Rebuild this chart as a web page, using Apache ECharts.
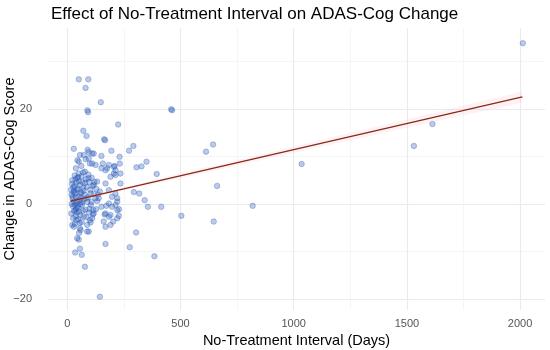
<!DOCTYPE html>
<html>
<head>
<meta charset="utf-8">
<script src="https://cdn.jsdelivr.net/npm/echarts@6/dist/echarts.min.js"></script>
<style>html,body{margin:0;padding:0;background:#fff}#c{width:550px;height:350px}</style>
</head>
<body>
<div id="c"></div>
<script>
// Scatter points: No-treatment interval (days) and ADAS-Cog change
const days = [
  51,93,81,148,89,92,459,463,71,85,225,163,167,29,90,95,195,273,292,613,644,662,
  56,73,117,151,231,81,100,157,209,232,306,328,350,395,294,318,342,356,415,504,647,
  304,276,385,169,144,78,35,64,56,44,51,88,95,29,56,103,161,203,229,191,228,165,117,
  151,173,213,221,198,184,235,139,144,117,132,191,213,235,151,176,206,22,59,52,169,191,
  221,819,1035,1531,1613,2012,
  51,95,110,110,125,169,184,206,213,169,213,221,184,198,221,169,184,
  18,20,24,19,27,22,26,29,21,25,28,23,30,17,
  33,36,40,32,44,35,38,42,34,39,43,37,41,33,45,31,40,36,38,
  48,52,56,47,59,50,54,58,46,53,57,49,55,51,60,47,45,
  63,67,71,62,74,65,69,73,64,70,66,72,62,
  78,82,86,77,89,80,84,88,79,85,
  93,97,101,92,104,96,100,94,103,98,
  108,112,118,107,115,110,120,124,113,
  128,132,127,136
];
const change = [
  26.2,26.2,24.4,21.4,19.7,19.3,19.9,19.7,15.4,14.3,16.7,13.6,13.4,11.6,11.4,10.9,11.2,11.2,12.2,11.0,12.5,3.8,
  10.3,10.3,10.6,10.1,9.9,9.4,8.5,8.5,8.0,8.5,7.7,7.9,8.9,6.3,2.5,2.2,0.8,-0.6,-0.6,-2.5,-3.7,
  -6.0,-9.1,-11.0,-8.4,-19.5,-13.2,-10.2,-10.7,-9.4,-7.2,-7.5,-5.8,-5.8,-4.8,-5.1,-3.9,-3.7,-3.7,-1.1,-2.3,-2.5,-2.2,-2.0,
  -0.6,-0.4,-0.2,0.5,1.5,2.9,4.3,1.2,2.6,4.0,4.7,5.7,6.1,6.4,7.5,7.5,7.8,-4.4,-5.5,-6.1,-4.8,-4.4,
  -3.0,-0.4,8.4,12.2,16.8,33.8,
  8.9,9.6,10.6,8.5,8.2,7.1,8.2,6.4,7.1,4.3,2.2,1.2,0.1,-0.6,-1.3,-2.0,-2.7,
  -2,0,1,2,3.5,5,-3,0.5,4.2,-0.5,2.5,1.5,-1.5,3,
  6,5.2,4.5,3.8,3,2.2,1.4,0.6,-0.2,-1,-1.8,-2.6,-3.4,-4.2,5.5,2.8,0.2,-1.4,7.5,
  5.6,4.8,4,3.2,2.4,1.6,0.8,0,-0.8,-1.6,-2.4,-3.2,-4,6.4,1.2,-0.4,9.2,
  5.8,4.6,3.4,2.2,1,-0.2,-1.4,-2.6,-3.8,6.6,0.4,2.8,8.0,
  6.8,5.2,3.6,2,0.4,-1.2,-2.8,-4.4,4.4,1.2,
  6.2,4.6,3,1.4,-0.2,-1.8,-3.4,5.4,2.2,-1,
  5.5,3.8,2.1,0.4,-1.3,-3,4.6,1.2,-2.2,
  3.2,0.6,-1.1,2.0
];
// Linear fit line and its confidence band
const fitX = [15, 2010];
const fitY = [0.6, 22.5];
const bandX = [15, 200, 500, 1000, 1500, 2010];
const bandLow = [0.1, 2.3, 5.4, 10.7, 16.0, 21.3];
const bandHigh = [1.1, 2.9, 6.4, 12.1, 17.8, 23.7];
// Tick values
const xMajor = [0, 500, 1000, 1500, 2000];
const xMinor = [250, 750, 1250, 1750];
const yMajor = [-20, 0, 20];
const yMinor = [-10, 10, 30];

const pts = days.map((d, i) => [d, change[i]]);
const bandData = bandX.map((x, i) => [x, bandLow[i], bandHigh[i]]);
const fitData = fitX.map((x, i) => [x, fitY[i]]);

const FONT = 'Liberation Sans, Arial, sans-serif';
const fmt = v => v < 0 ? '\u2212' + Math.abs(v) : String(v);

const chart = echarts.init(document.getElementById('c'), null, {renderer: 'canvas'});
chart.setOption({
  animation: false,
  backgroundColor: '#ffffff',
  title: {
    text: 'Effect of No-Treatment Interval on ADAS-Cog Change',
    left: 46, top: 1,
    textStyle: {fontFamily: FONT, fontSize: 17, fontWeight: 'normal', color: '#000'}
  },
  grid: {left: 48, right: 5, top: 28, bottom: 40, containLabel: false, outerBoundsMode: 'none'},
  xAxis: [
    {
      type: 'value', min: -85, max: 2110,
      name: 'No-Treatment Interval (Days)', nameLocation: 'middle', nameGap: 23, nameMoveOverlap: false,
      nameTextStyle: {fontFamily: FONT, fontSize: 14.5, color: '#000'},
      axisLine: {show: false},
      axisTick: {show: false, customValues: xMajor},
      axisLabel: {customValues: xMajor, color: '#555', fontFamily: FONT, fontSize: 11, margin: 8, formatter: fmt},
      splitLine: {show: true, lineStyle: {color: '#ebebeb', width: 1.1}}
    },
    {
      type: 'value', min: -85, max: 2110, position: 'bottom',
      axisLine: {show: false},
      axisTick: {show: false, customValues: xMinor},
      axisLabel: {show: false},
      splitLine: {show: true, lineStyle: {color: '#f2f2f2', width: 0.8}}
    }
  ],
  yAxis: [
    {
      type: 'value', min: -22.3, max: 37,
      name: 'Change in ADAS-Cog Score', nameLocation: 'middle', nameGap: 31, nameMoveOverlap: false,
      nameTextStyle: {fontFamily: FONT, fontSize: 14.5, color: '#000'},
      axisLine: {show: false},
      axisTick: {show: false, customValues: yMajor},
      axisLabel: {customValues: yMajor, color: '#555', fontFamily: FONT, fontSize: 11, margin: 16, formatter: fmt},
      splitLine: {show: true, lineStyle: {color: '#ebebeb', width: 1.1}}
    },
    {
      type: 'value', min: -22.3, max: 37, position: 'left',
      axisLine: {show: false},
      axisTick: {show: false, customValues: yMinor},
      axisLabel: {show: false},
      splitLine: {show: true, lineStyle: {color: '#f2f2f2', width: 0.8}}
    }
  ],
  series: [
    {
      type: 'scatter', data: pts, xAxisIndex: 0, yAxisIndex: 0,
      symbolSize: 5.5,
      itemStyle: {color: 'rgba(40,90,185,0.4)', borderColor: 'rgba(40,90,185,0.4)', borderWidth: 1},
      z: 2
    },
    {
      type: 'custom', data: bandData, xAxisIndex: 0, yAxisIndex: 0, silent: true, z: 3,
      renderItem: (params, api) => {
        if (params.dataIndex !== 0) return null;
        const poly = [];
        for (let i = 0; i < bandData.length; i++) poly.push(api.coord([bandData[i][0], bandData[i][2]]));
        for (let i = bandData.length - 1; i >= 0; i--) poly.push(api.coord([bandData[i][0], bandData[i][1]]));
        return {type: 'polygon', shape: {points: poly}, style: {fill: 'rgba(255,182,203,0.18)'}};
      }
    },
    {
      type: 'line', data: fitData, symbol: 'none', xAxisIndex: 0, yAxisIndex: 0,
      lineStyle: {color: '#862a12', width: 1.3}, z: 4
    }
  ]
});
</script>
</body>
</html>
